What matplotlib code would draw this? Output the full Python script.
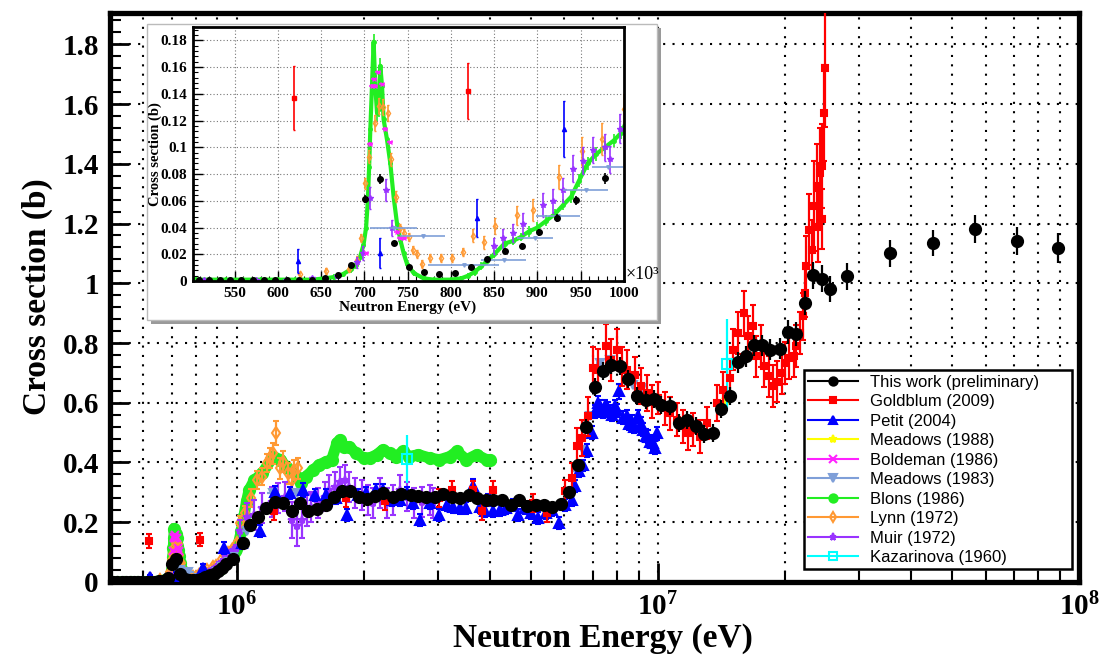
import matplotlib
matplotlib.use("Agg")
import matplotlib.pyplot as plt
import matplotlib.ticker as mtick
from matplotlib.lines import Line2D
from matplotlib.patches import Rectangle
import numpy as np

plt.rcParams['font.family'] = 'Liberation Serif'
plt.rcParams['font.weight'] = 'bold'
plt.rcParams['mathtext.fontset'] = 'custom'
plt.rcParams['mathtext.rm'] = 'Liberation Serif:bold'
plt.rcParams['mathtext.default'] = 'rm'

# ---------------- data: energy (eV), cross section (b), error (b) ----------------
# This work (preliminary)
tw_e = [508.8e3, 520e3, 532.7e3, 545e3, 558e3, 571e3, 584e3, 597e3,
        610.8e3, 624e3, 639.6e3, 654e3, 669.6e3, 685e3, 701e3, 717.6e3, 734.6e3, 751.5e3,
        768.4e3, 786.5e3, 804.6e3, 823e3, 842e3, 862e3, 882e3, 902e3, 923e3, 944.6e3, 978e3,
        1.032e6, 1.074e6, 1.124e6, 1.176e6, 1.231e6, 1.288e6, 1.349e6, 1.41e6, 1.48e6, 1.55e6,
        1.625e6, 1.70e6, 1.78e6, 1.86e6, 1.95e6, 2.04e6, 2.13e6, 2.23e6, 2.35e6, 2.46e6,
        2.59e6, 2.70e6, 2.82e6, 2.95e6, 3.09e6, 3.24e6, 3.39e6, 3.56e6, 3.72e6, 3.90e6,
        4.07e6, 4.27e6, 4.48e6, 4.68e6, 4.90e6, 5.13e6, 5.36e6, 5.62e6, 5.90e6, 6.14e6,
        6.46e6, 6.76e6, 7.08e6, 7.4e6, 7.76e6, 8.13e6, 8.5e6, 8.9e6, 9.35e6, 9.78e6,
        1.02e7, 1.07e7, 1.12e7, 1.17e7, 1.23e7, 1.29e7, 1.355e7, 1.41e7, 1.48e7, 1.55e7,
        1.62e7, 1.69e7, 1.77e7, 1.85e7, 1.95e7, 2.04e7, 2.13e7, 2.23e7, 2.34e7, 2.45e7,
        2.56e7, 2.81e7, 3.56e7, 4.49e7, 5.65e7, 7.11e7, 8.94e7]
tw_y = [0.0005, 0.0005, 0.0005, 0.0005, 0.0005, 0.0005, 0.0005, 0.0005,
        0.001, 0.001, 0.001, 0.0023, 0.0043, 0.0118, 0.0616, 0.0764, 0.0282, 0.0101,
        0.0066, 0.005, 0.006, 0.0106, 0.0163, 0.0224, 0.0261, 0.0364, 0.0468, 0.0603, 0.0769,
        0.13, 0.191, 0.216, 0.249, 0.269, 0.266, 0.238, 0.266, 0.236, 0.244,
        0.258, 0.286, 0.305, 0.303, 0.286, 0.277, 0.288, 0.297, 0.284, 0.295,
        0.292, 0.288, 0.286, 0.286, 0.294, 0.286, 0.28, 0.292, 0.28, 0.275,
        0.275, 0.275, 0.258, 0.275, 0.255, 0.258, 0.258, 0.25, 0.261, 0.30,
        0.392, 0.519, 0.653, 0.705, 0.727, 0.722, 0.68, 0.624, 0.61, 0.612,
        0.591, 0.588, 0.532, 0.541, 0.523, 0.496, 0.50, 0.579, 0.624, 0.735,
        0.755, 0.792, 0.792, 0.778, 0.781, 0.836, 0.83, 0.934, 1.027, 1.015,
        0.981, 1.023, 1.10, 1.135, 1.182, 1.143, 1.118]
tw_err = [0.0006, 0.0006, 0.0006, 0.0006, 0.0006, 0.0006, 0.0006, 0.0006,
          0.0008, 0.0008, 0.0009, 0.0012, 0.0015, 0.002, 0.003, 0.004, 0.002, 0.0015,
          0.0013, 0.0013, 0.0013, 0.0015, 0.0018, 0.002, 0.002, 0.0025, 0.003, 0.0035, 0.004,
          0.01, 0.012, 0.012, 0.012, 0.012, 0.012, 0.012, 0.012, 0.012, 0.012,
          0.012, 0.012, 0.012, 0.012, 0.012, 0.012, 0.012, 0.012, 0.012, 0.012,
          0.012, 0.012, 0.012, 0.012, 0.012, 0.012, 0.012, 0.012, 0.012, 0.012,
          0.012, 0.012, 0.012, 0.012, 0.012, 0.012, 0.012, 0.012, 0.014, 0.016,
          0.02, 0.025, 0.03, 0.03, 0.03, 0.03, 0.03, 0.03, 0.03, 0.03,
          0.03, 0.03, 0.03, 0.03, 0.03, 0.03, 0.03, 0.03, 0.03, 0.035,
          0.035, 0.035, 0.035, 0.035, 0.035, 0.04, 0.04, 0.04, 0.045, 0.045,
          0.045, 0.045, 0.045, 0.045, 0.047, 0.047, 0.05]

# Goldblum (2009)
gb_e = [619e3, 820e3, 1.227e6, 1.82e6, 2.25e6, 3.03e6, 3.24e6, 3.63e6, 3.83e6, 4.06e6,
        5.05e6, 5.45e6, 6.02e6, 6.27e6, 6.44e6, 6.59e6, 6.83e6, 7.02e6, 7.21e6, 7.55e6,
        7.76e6, 7.98e6, 8.2e6, 8.43e6, 8.82e6, 9.14e6, 9.4e6, 9.66e6, 1.0e7, 1.04e7,
        1.07e7, 1.11e7, 1.15e7, 1.18e7, 1.21e7, 1.26e7, 1.31e7, 1.38e7, 1.43e7, 1.48e7,
        1.51e7, 1.55e7, 1.60e7, 1.64e7, 1.68e7, 1.71e7, 1.76e7, 1.79e7, 1.84e7, 1.88e7,
        1.92e7, 1.97e7, 2.0e7, 2.05e7, 2.10e7, 2.13e7, 2.17e7, 2.21e7, 2.23e7, 2.25e7,
        2.29e7, 2.32e7, 2.35e7, 2.39e7, 2.40e7, 2.43e7, 2.45e7, 2.46e7, 2.48e7, 2.50e7]
gb_y = [0.137, 0.142, 0.236, 0.28, 0.27, 0.28, 0.308, 0.308, 0.236, 0.308,
        0.264, 0.23, 0.303, 0.348, 0.454, 0.482, 0.554, 0.716, 0.71, 0.789,
        0.744, 0.778, 0.722, 0.71, 0.694, 0.655, 0.633, 0.604, 0.616, 0.582,
        0.565, 0.543, 0.521, 0.498, 0.51, 0.487, 0.532, 0.599, 0.644, 0.683,
        0.778, 0.834, 0.9, 0.822, 0.856, 0.755, 0.789, 0.722, 0.688, 0.655,
        0.671, 0.70, 0.733, 0.75, 0.755, 0.789, 0.834, 0.889, 0.968, 1.057,
        1.18, 1.113, 1.258, 1.325, 1.19, 1.37, 1.392, 1.214, 1.571, 1.722]
gb_err = [0.024, 0.021, 0.03, 0.03, 0.03, 0.03, 0.03, 0.03, 0.03, 0.03,
          0.03, 0.03, 0.04, 0.05, 0.06, 0.06, 0.065, 0.07, 0.07, 0.075,
          0.07, 0.07, 0.065, 0.065, 0.06, 0.06, 0.06, 0.055, 0.055, 0.055,
          0.055, 0.055, 0.055, 0.055, 0.055, 0.055, 0.055, 0.06, 0.06, 0.065,
          0.07, 0.07, 0.075, 0.07, 0.07, 0.07, 0.07, 0.07, 0.07, 0.07,
          0.07, 0.07, 0.07, 0.07, 0.07, 0.07, 0.07, 0.08, 0.08, 0.1,
          0.12, 0.1, 0.15, 0.14, 0.12, 0.15, 0.14, 0.1, 0.16, 0.2]

# Petit (2004)
pe_e = [623e3, 718e3, 830e3, 931e3,
        1.03e6, 1.135e6, 1.235e6, 1.34e6, 1.435e6, 1.53e6, 1.63e6, 1.72e6, 1.83e6, 1.94e6,
        2.03e6, 2.14e6, 2.23e6, 2.34e6, 2.44e6, 2.53e6, 2.62e6, 2.73e6, 2.87e6, 3.02e6,
        3.15e6, 3.27e6, 3.39e6, 3.51e6, 3.63e6, 3.78e6, 3.88e6, 3.95e6, 4.06e6, 4.22e6,
        4.37e6, 4.53e6, 4.66e6, 4.83e6, 5.01e6, 5.2e6, 5.41e6, 5.59e6, 5.83e6, 6.02e6,
        6.24e6, 6.36e6, 6.5e6, 6.63e6, 6.8e6, 6.96e6, 7.1e6, 7.2e6, 7.3e6, 7.4e6,
        7.5e6, 7.6e6, 7.7e6, 7.8e6, 7.9e6, 8.0e6, 8.1e6, 8.25e6, 8.43e6, 8.55e6,
        8.66e6, 8.8e6, 8.98e6, 9.1e6, 9.23e6, 9.35e6, 9.49e6, 9.6e6, 9.75e6, 9.85e6,
        9.93e6]
pe_y = [0.015, 0.021, 0.047, 0.114,
        0.13, 0.172, 0.30, 0.297, 0.308, 0.292, 0.292, 0.28, 0.225, 0.292,
        0.297, 0.308, 0.308, 0.275, 0.275, 0.297, 0.264, 0.208, 0.264, 0.225,
        0.258, 0.252, 0.247, 0.247, 0.322, 0.252, 0.236, 0.275, 0.236, 0.241,
        0.247, 0.258, 0.225, 0.247, 0.23, 0.214, 0.23, 0.241, 0.197, 0.258,
        0.275, 0.32, 0.37, 0.39, 0.44, 0.50, 0.57, 0.60, 0.588, 0.57,
        0.588, 0.58, 0.571, 0.56, 0.588, 0.575, 0.638, 0.55, 0.554, 0.53,
        0.537, 0.52, 0.554, 0.53, 0.51, 0.49, 0.487, 0.47, 0.465, 0.45,
        0.498]
pe_err = [0.009, 0.011, 0.014, 0.021,
          0.018, 0.02, 0.022, 0.02, 0.022, 0.02, 0.02, 0.02, 0.02, 0.02,
          0.02, 0.02, 0.02, 0.02, 0.02, 0.02, 0.02, 0.02, 0.02, 0.02,
          0.02, 0.02, 0.02, 0.02, 0.022, 0.02, 0.02, 0.02, 0.02, 0.02,
          0.02, 0.02, 0.02, 0.02, 0.02, 0.02, 0.02, 0.02, 0.02, 0.02,
          0.02, 0.02, 0.02, 0.02, 0.022, 0.022, 0.022, 0.022, 0.022, 0.022,
          0.022, 0.022, 0.022, 0.022, 0.022, 0.022, 0.025, 0.022, 0.022, 0.022,
          0.022, 0.022, 0.022, 0.022, 0.022, 0.022, 0.022, 0.022, 0.022, 0.022,
          0.022]

# Meadows (1988)
m88_e = [1.46e7]
m88_y = [0.61]
m88_err = [0.02]

# Boldeman (1986)
bo_e = [702e3, 706.9e3, 708.8e3, 710.7e3, 712.6e3, 715.3e3, 720.4e3, 723.4e3, 729.2e3,
        737.7e3, 741.5e3, 746e3]
bo_y = [0.021, 0.1028, 0.146, 0.151, 0.146, 0.156, 0.147, 0.114, 0.104, 0.037, 0.032, 0.032]
bo_err = [0.001, 0.001, 0.001, 0.001, 0.001, 0.001, 0.001, 0.001, 0.001, 0.001, 0.001, 0.001]
bo_xerr = [3.5e3, 3.5e3, 3.5e3, 3.5e3, 3.5e3, 3.5e3, 3.5e3, 3.5e3, 3.5e3, 3.5e3, 3.5e3, 3.5e3]

# Meadows (1983)
m83_e = [734e3, 767.6e3, 815e3, 861e3, 897e3, 924e3, 956e3, 981e3, 1.06e6, 1.22e6,
         1.39e6, 6.41e6, 6.65e6, 6.89e6, 7.28e6, 7.7e6, 8.5e6, 8.73e6, 9.15e6]
m83_y = [0.040, 0.0337, 0.0123, 0.016, 0.032, 0.0488, 0.068, 0.085, 0.169, 0.297,
         0.297, 0.37, 0.443, 0.554, 0.733, 0.744, 0.688, 0.66, 0.651]
m83_err = [0.0005, 0.0005, 0.0005, 0.0005, 0.0005, 0.0005, 0.0005, 0.0005, 0.01, 0.01,
           0.01, 0.01, 0.01, 0.01, 0.01, 0.01, 0.01, 0.01, 0.01]
m83_xerr = [27e3, 26e3, 41e3, 26e3, 21e3, 25.5e3, 26e3, 18e3, 30e3, 40e3,
            40e3, 0.12e6, 0.12e6, 0.12e6, 0.15e6, 0.15e6, 0.15e6, 0.15e6, 0.15e6]

# Blons (1986)
bl_e = [505e3, 520e3, 540e3, 560e3, 580e3, 600e3, 620e3, 640e3, 655e3, 665e3,
        675e3, 685e3, 690e3, 695e3, 699e3, 702e3, 704e3, 705.5e3, 706.9e3, 708.8e3,
        710.7e3, 712.6e3, 714.6e3, 716.5e3, 718.4e3, 720.4e3, 722.2e3, 726.1e3, 730e3, 733.8e3,
        737.7e3, 741.5e3, 745.3e3, 749.2e3, 756.8e3, 768.4e3, 780e3, 800e3, 812e3, 820e3,
        828e3, 835e3, 842e3, 850e3, 862e3, 872e3, 881e3, 890e3, 900e3, 910e3,
        920e3, 930e3, 939e3, 948e3, 958e3, 968e3, 978e3, 988e3, 997e3,
        1.01e6, 1.025e6, 1.04e6, 1.055e6, 1.07e6, 1.1e6, 1.15e6, 1.22e6, 1.27e6, 1.31e6,
        1.39e6, 1.42e6, 1.46e6, 1.52e6, 1.57e6, 1.63e6, 1.68e6, 1.73e6, 1.76e6, 1.80e6,
        1.85e6, 1.92e6, 2.0e6, 2.07e6, 2.15e6, 2.22e6, 2.31e6, 2.39e6, 2.48e6, 2.57e6,
        2.7e6, 2.87e6, 3.03e6, 3.21e6, 3.33e6, 3.51e6, 3.71e6, 3.92e6, 4.0e6]
bl_y = [0.001, 0.001, 0.001, 0.001, 0.001, 0.001, 0.001, 0.001, 0.002, 0.003,
        0.005, 0.009, 0.012, 0.018, 0.027, 0.04, 0.06, 0.085, 0.1136, 0.146,
        0.179, 0.146, 0.126, 0.129, 0.161, 0.146, 0.121, 0.106, 0.088, 0.063,
        0.043, 0.031, 0.021, 0.013, 0.006, 0.002, 0.001, 0.001, 0.002, 0.004,
        0.007, 0.011, 0.015, 0.02, 0.028, 0.03, 0.033, 0.037, 0.04, 0.045,
        0.05, 0.057, 0.063, 0.075, 0.088, 0.095, 0.1, 0.105, 0.111,
        0.13, 0.17, 0.22, 0.27, 0.308, 0.34, 0.364, 0.42, 0.409, 0.386,
        0.353, 0.331, 0.353, 0.375, 0.392, 0.403, 0.409, 0.465, 0.476, 0.453,
        0.453, 0.431, 0.415, 0.415, 0.426, 0.442, 0.431, 0.42, 0.437, 0.42,
        0.426, 0.415, 0.409, 0.42, 0.437, 0.409, 0.426, 0.409, 0.409]
bl_err = [0.002, 0.002, 0.002, 0.002, 0.002, 0.002, 0.002, 0.002, 0.002, 0.002,
          0.002, 0.003, 0.003, 0.003, 0.003, 0.004, 0.004, 0.004, 0.005, 0.005,
          0.006, 0.006, 0.006, 0.006, 0.006, 0.006, 0.005, 0.005, 0.005, 0.004,
          0.004, 0.003, 0.003, 0.003, 0.002, 0.002, 0.002, 0.002, 0.002, 0.002,
          0.003, 0.003, 0.003, 0.003, 0.003, 0.003, 0.003, 0.004, 0.004, 0.004,
          0.004, 0.004, 0.005, 0.005, 0.005, 0.005, 0.005, 0.005, 0.005,
          0.01, 0.01, 0.01, 0.01, 0.01, 0.01, 0.01, 0.01, 0.01, 0.01,
          0.01, 0.01, 0.01, 0.01, 0.01, 0.01, 0.01, 0.01, 0.01, 0.01,
          0.01, 0.01, 0.01, 0.01, 0.01, 0.01, 0.01, 0.01, 0.01, 0.01,
          0.01, 0.01, 0.01, 0.01, 0.01, 0.01, 0.01, 0.01, 0.01]

# Lynn (1972)
ly_e = [626e3, 656e3, 682e3, 692e3, 696e3, 701e3, 705.7e3, 712.6e3, 716.5e3, 721.5e3,
        726.9e3, 730.8e3, 736.9e3, 741.5e3, 746.1e3, 751e3, 756e3, 760.8e3, 766.5e3, 775.3e3,
        788.4e3, 801e3, 813.4e3, 826e3, 838.4e3, 851e3, 876e3, 895e3, 925e3, 951e3,
        975e3, 1000e3, 1.016e6, 1.045e6, 1.08e6, 1.12e6, 1.145e6, 1.18e6, 1.2e6, 1.22e6,
        1.24e6, 1.265e6, 1.29e6, 1.32e6, 1.35e6, 1.37e6, 1.40e6]
ly_y = [0.005, 0.0075, 0.0093, 0.016, 0.032, 0.073, 0.093, 0.118, 0.131, 0.130,
        0.126, 0.091, 0.063, 0.040, 0.036, 0.033, 0.023, 0.020, 0.013, 0.017,
        0.017, 0.017, 0.022, 0.034, 0.029, 0.041, 0.049, 0.053, 0.078, 0.097,
        0.106, 0.129, 0.197, 0.23, 0.28, 0.342, 0.353, 0.398, 0.415, 0.431,
        0.498, 0.381, 0.403, 0.364, 0.342, 0.375, 0.381]
ly_err = [0.002, 0.002, 0.002, 0.003, 0.003, 0.004, 0.005, 0.006, 0.006, 0.006,
          0.006, 0.005, 0.004, 0.003, 0.003, 0.003, 0.003, 0.003, 0.003, 0.003,
          0.003, 0.003, 0.003, 0.005, 0.005, 0.006, 0.007, 0.008, 0.009, 0.011,
          0.012, 0.011, 0.025, 0.025, 0.03, 0.03, 0.03, 0.03, 0.035, 0.035,
          0.04, 0.035, 0.035, 0.035, 0.035, 0.035, 0.035]

# Muir (1972)
mu_e = [515e3, 545e3, 575e3, 610e3, 640e3, 668e3, 691.5e3, 698.4e3, 707e3, 725e3,
        732.3e3, 850e3, 860e3, 871.5e3, 883e3, 906.9e3, 918.4e3, 929.2e3, 941.5e3, 953e3,
        964.5e3, 978e3, 983.8e3, 995.4e3, 1.016e6, 1.06e6, 1.10e6, 1.15e6, 1.21e6, 1.25e6,
        1.30e6, 1.35e6, 1.39e6, 1.43e6, 1.47e6, 1.50e6, 1.56e6, 1.62e6, 1.66e6, 1.71e6,
        1.76e6, 1.81e6, 1.85e6, 1.91e6, 1.98e6, 2.05e6, 2.11e6, 2.19e6, 2.27e6, 2.35e6,
        2.44e6, 2.53e6, 2.64e6, 2.76e6, 2.87e6, 2.92e6]
mu_y = [0.001, 0.001, 0.001, 0.001, 0.002, 0.004, 0.014, 0.021, 0.062, 0.068,
        0.040, 0.026, 0.032, 0.036, 0.043, 0.057, 0.060, 0.068, 0.084, 0.090,
        0.098, 0.100, 0.091, 0.114, 0.169, 0.219, 0.225, 0.247, 0.269, 0.28,
        0.286, 0.208, 0.186, 0.208, 0.241, 0.252, 0.264, 0.286, 0.308, 0.319,
        0.336, 0.342, 0.319, 0.297, 0.292, 0.275, 0.264, 0.297, 0.264, 0.275,
        0.308, 0.286, 0.264, 0.269, 0.275, 0.264]
mu_err = [0.001, 0.001, 0.001, 0.001, 0.001, 0.002, 0.004, 0.005, 0.008, 0.008,
          0.006, 0.006, 0.007, 0.007, 0.008, 0.009, 0.009, 0.009, 0.01, 0.01,
          0.01, 0.01, 0.01, 0.011, 0.04, 0.045, 0.05, 0.05, 0.05, 0.05,
          0.05, 0.06, 0.065, 0.06, 0.055, 0.05, 0.05, 0.05, 0.05, 0.05,
          0.05, 0.05, 0.05, 0.05, 0.05, 0.05, 0.05, 0.05, 0.05, 0.05,
          0.05, 0.05, 0.05, 0.05, 0.05, 0.05]

# Kazarinova (1960)
ka_e = [2.53e6, 1.456e7]
ka_y = [0.412, 0.73]
ka_err = [0.08, 0.15]

# ---------------- styles ----------------
GREEN = '#22ee22'
series = [
    # label, e, y, yerr, xerr, color, marker, filled, ms main, ms inset, capsize
    ('Blons (1986)', bl_e, bl_y, bl_err, None, GREEN, 'o', True, 8, 2.5, 0),
    ('Lynn (1972)', ly_e, ly_y, ly_err, None, '#ff9933', 'd', False, 6, 3.5, 2),
    ('Muir (1972)', mu_e, mu_y, mu_err, None, '#9933ff', '*', True, 6, 4, 2),
    ('Boldeman (1986)', bo_e, bo_y, bo_err, bo_xerr, '#ff22ff', 'x', True, 6, 3.5, 0),
    ('Meadows (1983)', m83_e, m83_y, m83_err, m83_xerr, '#7f9fd8', 'v', True, 6, 2.5, 0),
    ('Meadows (1988)', m88_e, m88_y, m88_err, None, '#ffff00', '*', True, 7, 4, 0),
    ('Petit (2004)', pe_e, pe_y, pe_err, None, '#0000ff', '^', True, 6.5, 3, 2),
    ('Goldblum (2009)', gb_e, gb_y, gb_err, None, '#ff0000', 's', True, 4.5, 2.5, 2),
    ('Kazarinova (1960)', ka_e, ka_y, ka_err, None, '#00ffff', 's', False, 7, 4, 0),
    ('This work (preliminary)', tw_e, tw_y, tw_err, None, 'black', 'o', True, 8, 4, 0),
]
legend_order = ['This work (preliminary)', 'Goldblum (2009)', 'Petit (2004)', 'Meadows (1988)',
                'Boldeman (1986)', 'Meadows (1983)', 'Blons (1986)', 'Lynn (1972)',
                'Muir (1972)', 'Kazarinova (1960)']

fig = plt.figure(figsize=(11.01, 6.57), dpi=100)

# ---------------- main plot ----------------
ax = fig.add_axes([0.0999, 0.1142, 0.8801, 0.8661])
for i, (lab, e, y, err, xerr, c, m, filled, ms, msi, cap) in enumerate(series):
    if lab.startswith('Blons'):
        ax.plot(e, y, color=c, lw=8, solid_joinstyle='round', solid_capstyle='round',
                zorder=2 + i * 0.1)
    ax.errorbar(e, y, yerr=err, xerr=xerr, fmt=m, color=c, ms=ms,
                mfc=c if filled else 'none', mec=c, mew=1.5, ecolor=c,
                elinewidth=1.6, capsize=cap, capthick=1.6, zorder=2 + i * 0.1)

ax.set_xscale('log')
ax.set_xlim(5e5, 1e8)
ax.set_ylim(0, 1.905)
ax.xaxis.set_major_locator(mtick.LogLocator(base=10, numticks=10))
ax.xaxis.set_minor_locator(mtick.LogLocator(base=10, subs=range(2, 10), numticks=30))
ax.xaxis.set_major_formatter(mtick.FuncFormatter(lambda v, p: r'$10^{%d}$' % round(np.log10(v))))
ax.xaxis.set_minor_formatter(mtick.NullFormatter())
ax.yaxis.set_major_locator(mtick.MultipleLocator(0.2))
ax.yaxis.set_minor_locator(mtick.MultipleLocator(0.04))
ax.yaxis.set_major_formatter(mtick.FuncFormatter(lambda v, p: '%g' % round(v, 2)))
ax.tick_params(which='both', direction='in', top=False, right=False)
ax.tick_params(which='major', length=14, width=2, labelsize=21, pad=8)
ax.tick_params(which='minor', length=8, width=1.5)
ax.grid(which='major', axis='both', color='black', ls=(0, (1, 3.5)), lw=1.5)
ax.grid(which='minor', axis='x', color='black', ls=(0, (1, 3.5)), lw=1.5)
ax.set_axisbelow(True)
for s in ax.spines.values():
    s.set_linewidth(3.8)

fig.text(37 / 1101, 1 - 297 / 657, 'Cross section (b)', rotation=90, fontsize=24,
         ha='center', va='center')
fig.text(603 / 1101, 3 / 657, 'Neutron Energy (eV)', fontsize=24,
         ha='center', va='bottom')

handles = []
for name in legend_order:
    lab, e, y, err, xerr, c, m, filled, ms, msi, cap = [s for s in series if s[0] == name][0]
    handles.append(Line2D([], [], color=c, marker=m, ms=min(ms, 7) * 0.85,
                          mfc=c if filled else 'none', mec=c, mew=1.5, lw=1.5))
leg = ax.legend(handles, legend_order, loc='upper left',
                bbox_to_anchor=(804 / 1101, 1 - 377 / 657, 268 / 1101, 0.01),
                bbox_transform=fig.transFigure, mode='expand',
                prop={'family': 'Liberation Sans', 'weight': 'normal', 'size': 12},
                fancybox=False, framealpha=1, edgecolor='black', borderaxespad=0,
                handlelength=3.0, handletextpad=0.7, labelspacing=0.27, borderpad=0.25)
leg.get_frame().set_linewidth(1.8)

# ---------------- inset ----------------
fig.add_artist(Rectangle((151 / 1101, 1 - 324 / 657), 510 / 1101, 296 / 657,
                         transform=fig.transFigure, facecolor='#9a9a9a',
                         edgecolor='none', zorder=1.0))
fig.add_artist(Rectangle((147 / 1101, 1 - 320 / 657), 510 / 1101, 296 / 657,
                         transform=fig.transFigure, facecolor='white',
                         edgecolor='#bbbbbb', lw=1, zorder=1.1))

axi = fig.add_axes([193 / 1101, 1 - 281 / 657, 431 / 1101, 254 / 657], zorder=2)
for i, (lab, e, y, err, xerr, c, m, filled, ms, msi, cap) in enumerate(series):
    if lab.startswith('Blons'):
        axi.plot(e, y, color=c, lw=3, zorder=2 + i * 0.1)
    axi.errorbar(e, y, yerr=err, xerr=xerr, fmt=m, color=c, ms=msi,
                 mfc=c if filled else 'none', mec=c, mew=1, ecolor=c,
                 elinewidth=1.2, capsize=1 if cap else 0, capthick=1, zorder=2 + i * 0.1)
axi.set_xlim(502e3, 1000e3)
axi.set_ylim(0, 0.19)
axi.xaxis.set_major_locator(mtick.MultipleLocator(50e3))
axi.xaxis.set_minor_locator(mtick.MultipleLocator(10e3))
axi.xaxis.set_major_formatter(mtick.FuncFormatter(lambda v, p: '%d' % round(v / 1e3)))
axi.yaxis.set_major_locator(mtick.MultipleLocator(0.02))
axi.yaxis.set_minor_locator(mtick.MultipleLocator(0.004))
axi.yaxis.set_major_formatter(mtick.FuncFormatter(lambda v, p: '%g' % round(v, 3)))
axi.tick_params(which='both', direction='in', top=False, right=False, labelsize=11)
axi.tick_params(which='major', length=7, width=1, pad=4)
axi.tick_params(which='minor', length=3.5, width=0.8)
axi.grid(which='major', color='#777777', ls=(0, (1, 2)), lw=0.8)
axi.set_axisbelow(True)
for s in axi.spines.values():
    s.set_linewidth(2)

fig.text(155 / 1101, 1 - 154 / 657, 'Cross section (b)', rotation=90, fontsize=10.5,
         ha='center', va='center', zorder=3)
fig.text(408 / 1101, 1 - 307 / 657, 'Neutron Energy (eV)', fontsize=11,
         ha='center', va='center', zorder=3)
fig.text(626 / 1101, 1 - 275 / 657, '\u00d710\u00b3', fontsize=13, weight='normal',
         ha='left', va='center', zorder=3)

fig.savefig('out.png', dpi=100)
